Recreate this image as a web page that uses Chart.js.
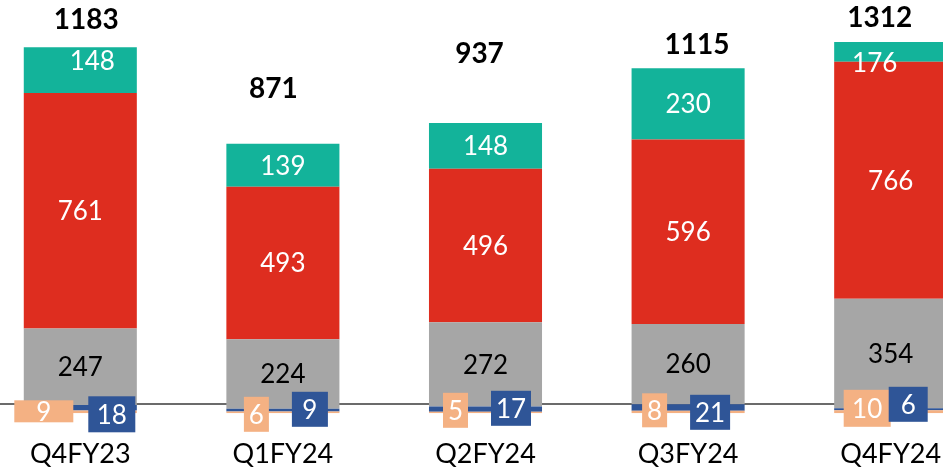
<!DOCTYPE html>
<html><head><meta charset="utf-8">
<script src="https://cdn.jsdelivr.net/npm/chart.js@4"></script>
<style>
html,body{margin:0;padding:0;background:#fff;overflow:hidden;width:943px;height:472px}
#wrap{position:absolute;left:-21px;top:0;width:1013px;height:472px}
</style>
</head><body><div id="wrap"><canvas id="c"></canvas></div>
<script>
// ---- data ----
const categories = ['Q4FY23', 'Q1FY24', 'Q2FY24', 'Q3FY24', 'Q4FY24'];
const seriesOrange = [9, 6, 5, 8, 10];
const seriesBlue = [18, 9, 17, 21, 6];
const seriesGray = [247, 224, 272, 260, 354];
const seriesRed = [761, 493, 496, 596, 766];
const seriesTeal = [148, 139, 148, 230, 176];
const totals = [1183, 871, 937, 1115, 1312];

// ---- style / placement config ----
const COLORS = ['#F4B183', '#2F5597', '#A6A6A6', '#DE2D1F', '#13B39A'];
const FONT = 'Lato, "Open Sans", sans-serif';
const yMaxValue = 1200;
const baselineValue = 30;
const segTextColor = {2: '#000000', 3: '#ffffff', 4: '#ffffff'};
const segShift = {'4-0': [12, -10], '4-4': [-16, 11]};
// [dx from bar centre, dy from zero line, box width, box height]
const boxPlacement = {
  0: [[-36.5, -2, 59, 22], [-26.5, 1, 25, 35], [-30, -3, 25, 35], [-33.5, -3, 25, 34], [-23.5, -5, 47, 37]],
  1: [[31.5, 1, 47, 36], [27, -4, 36, 35], [25.5, -5, 40, 35], [22, -1, 40, 35], [17.5, -9, 39, 35]]
};
const totalShift = [[6, -28], [-9.5, -56], [-6, -70], [9, -24], [-11, -25]];

const labelPlugin = {
  id: 'labels',
  beforeDatasetsDraw(chart) {
    const ctx = chart.ctx, y = chart.scales.y;
    const py = y.getPixelForValue(baselineValue);
    ctx.save();
    ctx.strokeStyle = '#3a3a3a';
    ctx.lineWidth = 1.4;
    ctx.beginPath();
    ctx.moveTo(0, py);
    ctx.lineTo(chart.width, py);
    ctx.stroke();
    ctx.restore();
  },
  afterDatasetsDraw(chart) {
    const ctx = chart.ctx, area = chart.chartArea, y = chart.scales.y;
    const zero = y.getPixelForValue(0);
    ctx.save();
    ctx.font = '26px ' + FONT;
    ctx.textAlign = 'center';
    ctx.textBaseline = 'middle';
    // segment labels
    [2, 3, 4].forEach(di => {
      const meta = chart.getDatasetMeta(di);
      meta.data.forEach((el, i) => {
        const top = Math.max(el.y, area.top), bot = Math.min(el.base, area.bottom);
        const sh = segShift[di + '-' + i] || [0, 0];
        ctx.fillStyle = segTextColor[di];
        ctx.fillText(String(chart.data.datasets[di].data[i]), el.x + sh[0], (top + bot) / 2 + sh[1] + 1);
      });
    });
    // boxed small labels
    [0, 1].forEach(di => {
      const meta = chart.getDatasetMeta(di);
      meta.data.forEach((el, i) => {
        const p = boxPlacement[di][i];
        const cx = el.x + p[0], cy = zero + p[1];
        ctx.fillStyle = COLORS[di];
        ctx.fillRect(cx - p[2] / 2, cy - p[3] / 2, p[2], p[3]);
        ctx.fillStyle = '#ffffff';
        ctx.fillText(String(chart.data.datasets[di].data[i]), cx, cy + 1);
      });
    });
    // totals
    ctx.font = 'bold 28px ' + FONT;
    ctx.fillStyle = '#000000';
    const last = chart.getDatasetMeta(4);
    last.data.forEach((el, i) => {
      const top = Math.max(el.y, area.top);
      ctx.fillText(String(totals[i]), el.x + totalShift[i][0], top + totalShift[i][1] + 1);
    });
    ctx.restore();
  }
};

const mk = (d, i) => ({data: d, backgroundColor: COLORS[i], borderWidth: 0, barPercentage: 0.558, categoryPercentage: 1});

new Chart(document.getElementById('c'), {
  type: 'bar',
  data: {
    labels: categories,
    datasets: [mk(seriesOrange, 0), mk(seriesBlue, 1), mk(seriesGray, 2), mk(seriesRed, 3), mk(seriesTeal, 4)]
  },
  options: {
    responsive: true,
    maintainAspectRatio: false,
    animation: false,
    layout: {padding: {top: 42, left: 0, right: 0, bottom: 0}},
    plugins: {legend: {display: false}, tooltip: {enabled: false}},
    scales: {
      x: {
        stacked: true,
        grid: {display: false},
        border: {display: false},
        ticks: {color: '#000', font: {family: FONT, size: 27}, padding: 17, maxRotation: 0},
        afterFit(s) { s.height = 58.7; }
      },
      y: {
        stacked: true,
        display: false,
        min: 0,
        max: yMaxValue
      }
    }
  },
  plugins: [labelPlugin]
});
</script>
</body></html>
